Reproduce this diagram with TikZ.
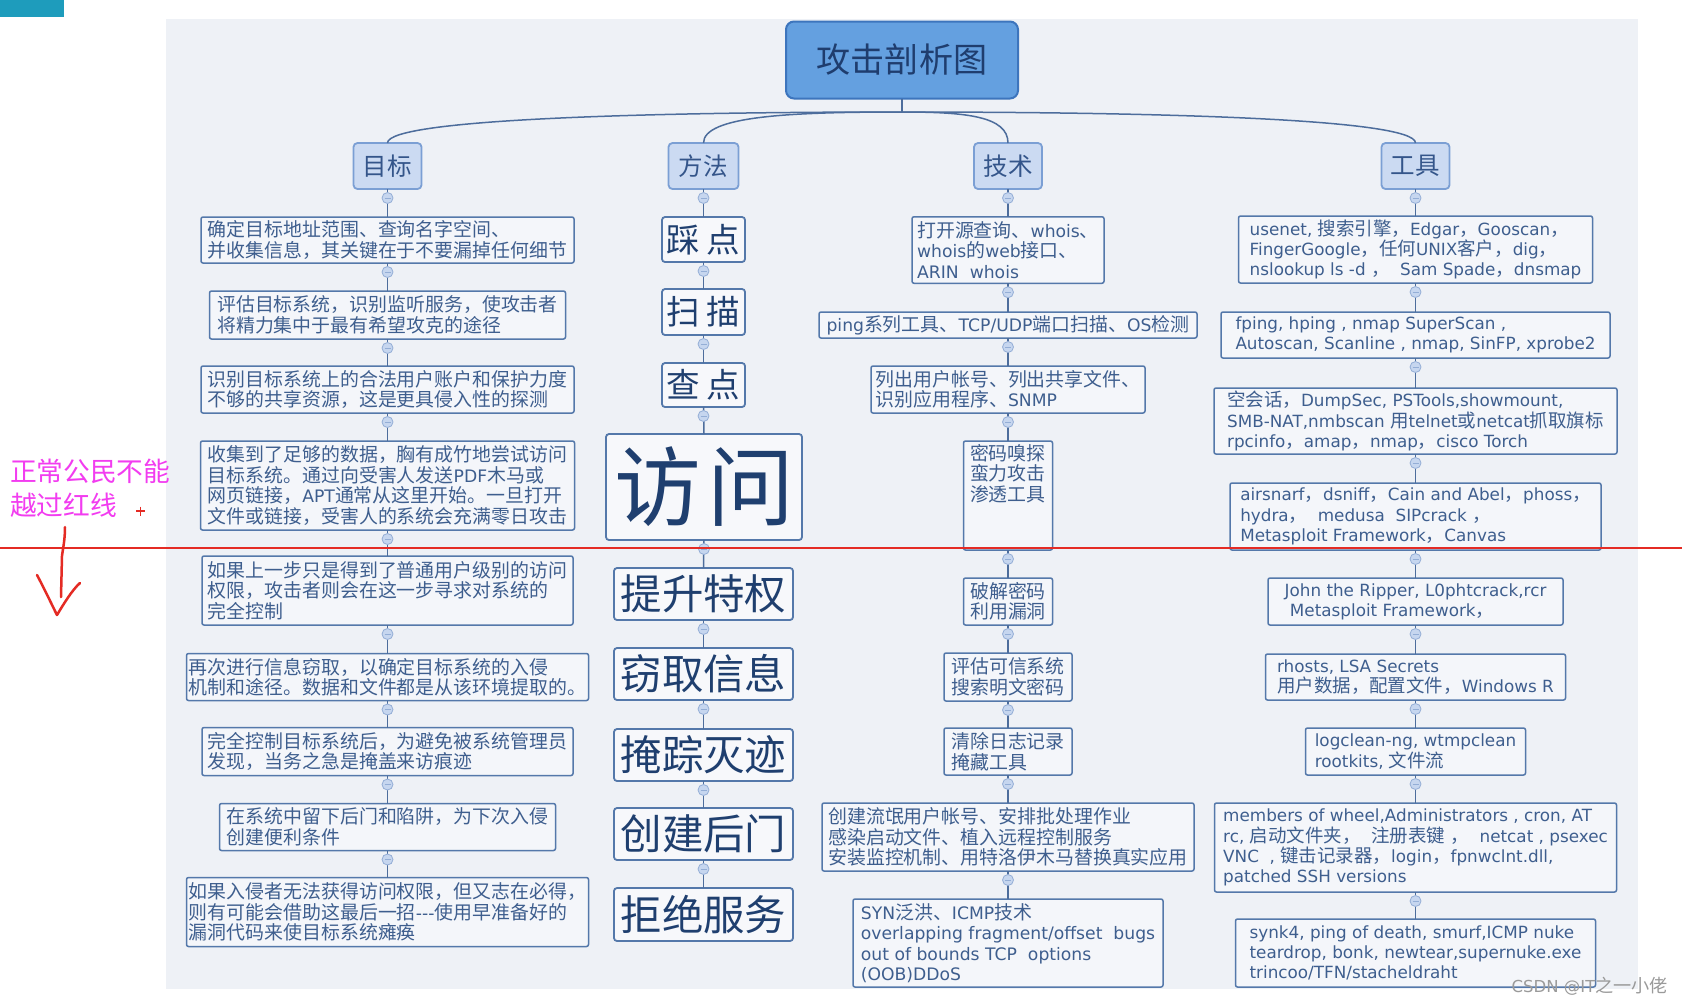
\documentclass[tikz,border=0pt]{standalone}
\usepackage{fontspec}
\usetikzlibrary{calc}
\setmainfont{DejaVu Sans}
\newfontfamily\cjkf[Scale=1.1]{Noto Sans CJK SC}
\newfontfamily\latf{DejaVu Sans}
\newcommand\cjkswitch{\cjkf}
\XeTeXinterchartokenstate=1
\newcount\cjkcnt
\newcommand\setcjkrange[2]{\cjkcnt=#1\relax\loop\XeTeXcharclass\cjkcnt=10\relax\advance\cjkcnt by 1\relax\ifnum\cjkcnt<#2\relax\repeat}
\setcjkrange{"3000}{"3040}
\setcjkrange{"4E00}{"A000}
\setcjkrange{"FF00}{"FFF0}
\XeTeXinterchartoks 0 10 = {\cjkswitch}
\XeTeXinterchartoks 4095 10 = {\cjkswitch}
\XeTeXinterchartoks 10 0 = {\latf}
\XeTeXinterchartoks 10 4095 = {\latf}

\definecolor{panel}{HTML}{EEF1F6}
\definecolor{boxfill}{HTML}{F4F6FA}
\definecolor{boxc}{HTML}{5478AA}
\definecolor{txtc}{HTML}{3E5E8E}
\definecolor{connc}{HTML}{4D6D9C}
\definecolor{catfill}{HTML}{CBDAF2}
\definecolor{catdraw}{HTML}{7B9FD4}
\definecolor{cattxt}{HTML}{34558A}
\definecolor{rootfill}{HTML}{64A0E0}
\definecolor{rootdraw}{HTML}{3D75BD}
\definecolor{roottxt}{HTML}{1F3D6E}
\definecolor{methtxt}{HTML}{1F3F6F}
\definecolor{methfill}{HTML}{F7F8FB}
\definecolor{redl}{HTML}{E42B24}
\definecolor{pinkc}{HTML}{F23CF0}
\definecolor{tealc}{HTML}{1E9CBC}
\definecolor{knobfill}{HTML}{C6D6EF}
\definecolor{knobdraw}{HTML}{94AED6}
\definecolor{wmc}{HTML}{9A9A9A}

\newcommand\dnode[6][detail]{\node[#1, minimum width=#4pt, minimum height=#5pt] (#2) at (#3) {#6};}
\newcommand\linkto[2]{\draw[conn] (#1.south) -- (#2.north);
  \draw[knob] ($(#1.south)+(0,9)$) circle[radius=5.5pt];
  \draw[knobm] ($(#1.south)+(-3,9)$) -- ($(#1.south)+(3,9)$);}

\begin{document}
\begin{tikzpicture}[x=1pt,y=-1pt,
  every node/.style={inner sep=0pt, outer sep=0pt},
  detail/.style={draw=boxc, line width=1.5pt, fill=boxfill, rounded corners=2pt, text=txtc, align=left, font=\fontsize{17.2}{20.5}\selectfont},
  tool/.style={detail, font=\fontsize{16.8}{20.2}\selectfont},
  methbox/.style={draw=boxc, line width=1.8pt, fill=methfill, rounded corners=3pt, text=methtxt, minimum width=179pt, minimum height=52pt, font=\fontsize{37.7}{40}\selectfont},
  smallmeth/.style={methbox, minimum width=83pt, minimum height=45pt, font=\fontsize{30.5}{33}\selectfont},
  catbox/.style={draw=catdraw, line width=1.8pt, fill=catfill, rounded corners=4pt, text=cattxt, minimum width=68pt, minimum height=46pt, font=\fontsize{22.3}{25}\selectfont},
  rootbox/.style={draw=rootdraw, line width=2pt, fill=rootfill, rounded corners=8pt, text=roottxt, minimum width=232pt, minimum height=77pt, font=\fontsize{31}{34}\selectfont},
  conn/.style={draw=connc, line width=1.5pt},
  knob/.style={draw=knobdraw, fill=knobfill, line width=0.8pt},
  knobm/.style={draw=knobdraw, line width=0.9pt},
  redline/.style={draw=redl, line width=2pt},
  pinktxt/.style={text=pinkc, align=left, font=\fontsize{24.3}{34}\selectfont},
  wm/.style={text=wmc, font=\fontsize{16.5}{18}\selectfont}
]
\useasboundingbox (0,0) rectangle (1682,1005);
\fill[white] (0,0) rectangle (1682,1005);
\fill[panel] (166,19) rectangle (1638,989);
\fill[tealc] (0,0) rectangle (64,17);

% root and categories
\node[rootbox] (root) at (902,60) {攻击剖析图};
\node[catbox] (cg) at (387.5,166) {目标};
\node[catbox, minimum width=70pt] (cm) at (703.5,166) {方法};
\node[catbox] (ct) at (1008,166) {技术};
\node[catbox] (ck) at (1415.5,166) {工具};

\coordinate (jn) at (902,112);
\draw[conn] (root.south) -- (jn);
\draw[conn] (jn) .. controls (670,112) and (387.5,118) .. (cg.north);
\draw[conn] (jn) .. controls (790,112) and (703.5,116) .. (cm.north);
\draw[conn] (jn) .. controls (965,112) and (1008,116) .. (ct.north);
\draw[conn] (jn) .. controls (1140,112) and (1415.5,118) .. (ck.north);

% goal column
\dnode{g1}{387.5,240}{373}{46}{确定目标地址范围、查询名字空间、\\并收集信息，其关键在于不要漏掉任何细节}
\dnode{g2}{387.5,315}{356}{48}{评估目标系统，识别监听服务，使攻击者\\将精力集中于最有希望攻克的途径}
\dnode{g3}{387.5,389.5}{373}{47}{识别目标系统上的合法用户账户和保护力度\\不够的共享资源，这是更具侵入性的探测}
\dnode{g4}{387.5,485.5}{374}{89}{收集到了足够的数据，胸有成竹地尝试访问\\目标系统。通过向受害人发送PDF木马或\\网页链接，APT通常从这里开始。一旦打开\\文件或链接，受害人的系统会充满零日攻击}
\dnode{g5}{387.5,590.5}{371}{69}{如果上一步只是得到了普通用户级别的访问\\权限，攻击者则会在这一步寻求对系统的\\完全控制}
\dnode{g6}{387.5,677}{402}{47}{再次进行信息窃取，以确定目标系统的入侵\\机制和途径。数据和文件都是从该环境提取的。}
\dnode{g7}{387.5,751.5}{371}{48}{完全控制目标系统后，为避免被系统管理员\\发现，当务之急是掩盖来访痕迹}
\dnode{g8}{387.5,827}{336}{47}{在系统中留下后门和陷阱，为下次入侵\\创建便利条件}
\dnode{g9}{387.5,912}{402}{69}{如果入侵者无法获得访问权限，但又志在必得，\\则有可能会借助这最后一招{-}{-}{-}使用早准备好的\\漏洞代码来使目标系统瘫痪}

% method column
\node[smallmeth] (m1) at (703.5,239.5) {踩\hspace{6pt}点};
\node[smallmeth, minimum height=46pt] (m2) at (703.5,312) {扫\hspace{6pt}描};
\node[smallmeth, minimum height=44pt] (m3) at (703.5,385) {查\hspace{6pt}点};
\node[methbox, minimum width=196pt, minimum height=106pt, font=\fontsize{79}{85}\selectfont] (m4) at (704,487) {访\hspace{6pt}问};
\node[methbox] (m5) at (703.5,594) {提升特权};
\node[methbox] (m6) at (703.5,674) {窃取信息};
\node[methbox] (m7) at (703.5,755) {掩踪灭迹};
\node[methbox] (m8) at (703.5,834) {创建后门};
\node[methbox, minimum height=53pt] (m9) at (703.5,914.5) {拒绝服务};

% technique column
\dnode{t1}{1008,250}{192}{66.5}{打开源查询、whois、\\whois的web接口、\\ARIN\ \ whois}
\dnode{t2}{1008,325}{378}{26}{ping系列工具、TCP/UDP端口扫描、OS检测}
\dnode{t3}{1008,389.5}{274}{47}{列出用户帐号、列出共享文件、\\识别应用程序、SNMP}
\dnode{t4}{1008,495.5}{89}{109}{\parbox[c][103pt][t]{76pt}{密码嗅探\\蛮力攻击\\渗透工具}}
\dnode{t5}{1008,601.5}{89}{47}{破解密码\\利用漏洞}
\dnode{t6}{1008,677}{128}{48}{评估可信系统\\搜索明文密码}
\dnode{t7}{1008,751.5}{128}{47}{清除日志记录\\掩藏工具\phantom{记录}}
\dnode{t8}{1008,837}{372}{68}{创建流氓用户帐号、安排批处理作业\\感染启动文件、植入远程控制服务\\安装监控机制、用特洛伊木马替换真实应用}
\dnode{t9}{1008,943}{310}{88}{SYN泛洪、ICMP技术\\overlapping fragment/offset\ \ bugs\\out of bounds TCP\ \ options\\(OOB)DDoS}

% tool column
\dnode[tool]{k1}{1415.5,249.5}{354}{67}{usenet, 搜索引擎，Edgar，Gooscan，\\FingerGoogle，任何UNIX客户，dig，\\nslookup ls -d ，\ \ Sam Spade，dnsmap}
\dnode[tool]{k2}{1415.5,335}{389}{46}{fping, hping , nmap SuperScan ,\\Autoscan, Scanline , nmap, SinFP, xprobe2}
\dnode[tool]{k3}{1415.5,421}{403}{66}{空会话，DumpSec, PSTools,showmount,\\SMB-NAT,nmbscan 用telnet或netcat抓取旗标\\rpcinfo，amap，nmap，cisco Torch}
\dnode[tool]{k4}{1415.5,516.5}{371}{67}{airsnarf，dsniff，Cain and Abel，phoss，\\hydra，\ \ medusa\ \ SIPcrack ，\\Metasploit Framework，Canvas}
\dnode[tool]{k5}{1415.5,601.5}{295}{47}{John the Ripper, L0phtcrack,rcr\\\ Metasploit Framework，}
\dnode[tool]{k6}{1415.5,677}{300}{46}{rhosts, LSA Secrets\\用户数据，配置文件，Windows R}
\dnode[tool]{k7}{1415.5,751.5}{220}{47}{logclean-ng, wtmpclean\\rootkits, 文件流}
\dnode[tool]{k8}{1415.5,847.5}{402}{89}{members of wheel,Administrators , cron, AT\\rc, 启动文件夹，\ \ 注册表键 ，\ \ netcat , psexec\\VNC\ \ , 键击记录器，login，fpnwclnt.dll,\\patched SSH versions}
\dnode[tool]{k9}{1415.5,953}{360}{68}{synk4, ping of death, smurf,ICMP nuke\\teardrop, bonk, newtear,supernuke.exe\\trincoo/TFN/stacheldraht}

% connectors
\linkto{cg}{g1}\linkto{g1}{g2}\linkto{g2}{g3}\linkto{g3}{g4}\linkto{g4}{g5}
\linkto{g5}{g6}\linkto{g6}{g7}\linkto{g7}{g8}\linkto{g8}{g9}
\linkto{cm}{m1}\linkto{m1}{m2}\linkto{m2}{m3}\linkto{m3}{m4}\linkto{m4}{m5}
\linkto{m5}{m6}\linkto{m6}{m7}\linkto{m7}{m8}\linkto{m8}{m9}
\linkto{ct}{t1}\linkto{t1}{t2}\linkto{t2}{t3}\linkto{t3}{t4}\linkto{t4}{t5}
\linkto{t5}{t6}\linkto{t6}{t7}\linkto{t7}{t8}\linkto{t8}{t9}
\linkto{ck}{k1}\linkto{k1}{k2}\linkto{k2}{k3}\linkto{k3}{k4}\linkto{k4}{k5}
\linkto{k5}{k6}\linkto{k6}{k7}\linkto{k7}{k8}\linkto{k8}{k9}

% red line and annotation
\draw[redline] (0,548) -- (1682,548);
\node[pinktxt, anchor=north west] (note) at (10,459) {正常公民不能\\越过红线};
\draw[redl, line width=1.2pt] (136,511) -- (145,511) (140.5,506.5) -- (140.5,515.5);
\draw[redl, line width=2.5pt, line cap=round, line join=round] (65,527) .. controls (65,540) and (63,548) .. (62,556) -- (61,597);
\draw[redl, line width=2.5pt, line cap=round, line join=round] (37,575) .. controls (45,590) and (52,605) .. (57,615) .. controls (63,605) and (72,590) .. (80,583);

\node[wm, anchor=east] (wmk) at (1668,986) {CSDN @IT之一小佬};
\end{tikzpicture}
\end{document}
